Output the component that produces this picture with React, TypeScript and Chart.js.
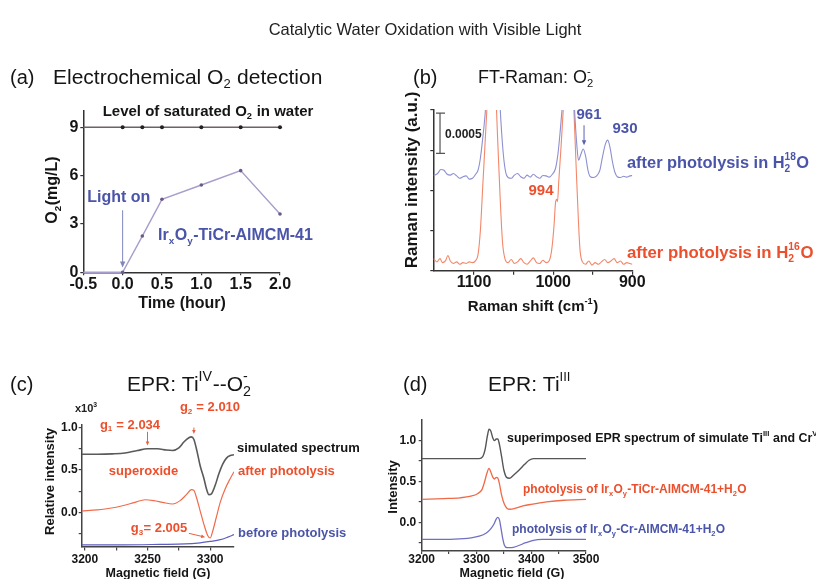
import React, { useEffect, useRef } from 'react';
import { Chart, registerables } from 'chart.js';

Chart.register(...registerables);

const PAGE_W = 816;
const PAGE_H = 579;
const FONT = "'Liberation Sans', Arial, Helvetica, sans-serif";

// ---------------- (a) Electrochemical O2 detection ----------------
const timeHours = [-0.5, 0, 0.25, 0.5, 1.0, 1.5, 2.0];
const o2Values = [0, 0, 2.25, 4.53, 5.42, 6.31, 3.62];
const saturatedO2 = [9, 9, 9, 9, 9, 9, 9];
const timeTicks = [-0.5, 0, 0.5, 1.0, 1.5, 2.0];
const o2Ticks = [0, 3, 6, 9];

// ---------------- (b) FT-Raman (intensity in units of 0.0005) ----------------
const raman18O: [number, number][] = [
  [1151, 2.37], [1146, 2.42], [1142, 2.52], [1138, 2.5], [1134, 2.4], [1130, 2.38], [1126, 2.42], [1122, 2.36],
  [1118, 2.3], [1114, 2.34], [1110, 2.36], [1106, 2.28], [1102, 2.3], [1098, 2.4], [1095, 2.5],
  [1092, 2.8], [1089, 3.3], [1086, 3.9], [1083, 4.8], [1079, 5.8], [1075, 6.2], [1071, 5.6], [1068, 4.4], [1066, 3.7],
  [1063, 2.9], [1060, 2.45], [1057, 2.32], [1053, 2.3], [1049, 2.38], [1045, 2.42], [1041, 2.34], [1037, 2.3],
  [1033, 2.38], [1029, 2.33], [1025, 2.4], [1021, 2.34], [1017, 2.3], [1013, 2.37], [1009, 2.36], [1005, 2.33], [1001, 2.4],
  [997, 2.55], [994, 2.9], [991, 3.5], [988, 4.2], [985, 5.0], [980, 6.0], [976, 5.2], [973, 4.0], [970, 3.1], [968, 2.75],
  [965, 2.9], [962, 3.03], [959, 2.85], [956, 2.5], [953, 2.34], [949, 2.32], [945, 2.36], [941, 2.5], [938, 2.8],
  [934, 3.15], [931, 3.25], [928, 3.05], [925, 2.7], [922, 2.45], [919, 2.34], [915, 2.32], [911, 2.35], [907, 2.33],
  [903, 2.36], [900, 2.37],
];
const raman16O: [number, number][] = [
  [1151, 0.3], [1147, 0.22], [1143, 0.3], [1140, 0.2], [1136, 0.25], [1133, 0.38], [1130, 0.24], [1126, 0.18],
  [1122, 0.22], [1118, 0.16], [1114, 0.2], [1110, 0.18], [1106, 0.22], [1102, 0.2], [1098, 0.25],
  [1095, 0.4], [1092, 1.0], [1089, 2.1], [1086, 3.2], [1083, 4.3], [1078, 5.6], [1073, 4.6], [1070, 3.2], [1067, 1.8],
  [1064, 0.7], [1061, 0.3], [1057, 0.2], [1053, 0.28], [1049, 0.18], [1045, 0.22], [1041, 0.3], [1037, 0.2],
  [1033, 0.16], [1029, 0.24], [1025, 0.32], [1021, 0.2], [1017, 0.18], [1013, 0.26], [1009, 0.2], [1005, 0.25],
  [1002, 0.5], [999, 1.1], [997, 1.7], [995.5, 1.78], [994.5, 1.72], [993, 2.2], [990, 3.1], [987, 4.1], [983, 5.5],
  [978, 5.7], [974, 4.1], [971, 2.6], [968, 1.2], [966, 0.5], [963, 0.22],
  [959, 0.16], [955, 0.24], [951, 0.14], [947, 0.2], [943, 0.16], [939, 0.22], [935, 0.28], [931, 0.2], [927, 0.24],
  [923, 0.3], [919, 0.2], [915, 0.24], [911, 0.16], [907, 0.2], [903, 0.18], [900, 0.16],
];
const ramanMajorTicks = [1100, 1000, 900];
const ramanAllTicks = [1100, 1050, 1000, 950, 900];
const ramanYTicks = [0, 1, 2, 3, 4];

// ---------------- (c) EPR: Ti(IV)--O2- ----------------
const eprSimulated: [number, number][] = [
  [3197.5, 0.686], [3210, 0.686], [3222, 0.69], [3232, 0.7], [3242, 0.73], [3250, 0.75], [3258, 0.75], [3265, 0.735],
  [3270, 0.73], [3275, 0.76], [3279, 0.83], [3283, 0.88], [3285, 0.89], [3287, 0.86], [3289.5, 0.72], [3292, 0.55],
  [3295, 0.4], [3297, 0.28], [3299, 0.21], [3301, 0.22], [3304, 0.32], [3307, 0.46], [3310, 0.57], [3313, 0.64],
  [3316, 0.67], [3319, 0.68],
];
const eprAfter: [number, number][] = [
  [3197.5, 0.02], [3210, 0.03], [3220, 0.05], [3230, 0.08], [3240, 0.12], [3248, 0.15], [3255, 0.14], [3262, 0.12],
  [3270, 0.1], [3276, 0.14], [3281, 0.21], [3285, 0.27], [3287, 0.26], [3289, 0.18], [3292, 0.02], [3295, -0.14],
  [3298, -0.27], [3300, -0.3], [3302, -0.22], [3305, -0.05], [3308, 0.12], [3312, 0.28], [3316, 0.4], [3319, 0.48],
];
const eprBefore: [number, number][] = [
  [3197.5, -0.38], [3230, -0.38], [3260, -0.375], [3280, -0.37], [3290, -0.36], [3300, -0.34], [3308, -0.32],
  [3314, -0.29], [3319, -0.26],
];
const fieldTicksC = [3200, 3225, 3250, 3275, 3300];
const intTicksC = [-0.25, 0, 0.25, 0.5, 0.75, 1.0];

// ---------------- (d) EPR: Ti(III) ----------------
const eprSuperimposed: [number, number][] = [
  [3200, 0.78], [3305, 0.78], [3311, 0.8], [3316, 0.9], [3320, 1.06], [3323, 1.14], [3326, 1.12], [3330, 1.03],
  [3333, 1.0], [3336, 1.02], [3339, 1.02], [3342, 0.95], [3346, 0.8], [3350, 0.64], [3355, 0.55], [3360, 0.54],
  [3368, 0.58], [3378, 0.64], [3388, 0.71], [3396, 0.76], [3404, 0.78], [3500, 0.78],
];
const eprTiCr: [number, number][] = [
  [3200, 0.28], [3240, 0.29], [3270, 0.3], [3290, 0.32], [3302, 0.35], [3310, 0.4], [3315, 0.5], [3319, 0.6],
  [3323, 0.66], [3326, 0.62], [3330, 0.55], [3333, 0.53], [3336, 0.55], [3339, 0.54], [3342, 0.47], [3346, 0.33],
  [3351, 0.22], [3356, 0.17], [3361, 0.16], [3370, 0.17], [3385, 0.2], [3400, 0.22], [3428, 0.25], [3460, 0.27],
  [3500, 0.28],
];
const eprCr: [number, number][] = [
  [3200, -0.21], [3260, -0.205], [3290, -0.19], [3305, -0.17], [3318, -0.13], [3326, -0.08], [3332, -0.02],
  [3336, 0.04], [3339, 0.06], [3342, 0.03], [3345, -0.08], [3348, -0.2], [3351, -0.28], [3356, -0.31], [3364, -0.31],
  [3375, -0.29], [3390, -0.25], [3404, -0.22], [3420, -0.21], [3500, -0.21],
];
const fieldTicksD = [3200, 3250, 3300, 3350, 3400, 3450, 3500];
const intTicksD = [-0.25, 0, 0.25, 0.5, 0.75, 1.0];

// ---------------- styles ----------------
const INK = '#151515';
const BLUE_TXT = '#4a54a8';
const RED_TXT = '#ec4f2c';
const AXIS = '#333333';

// ---------------- rich text ----------------
type Seg = { t: string; m: number };
function parseRich(s: string): Seg[] {
  const out: Seg[] = [];
  const re = /([_^])\{([^}]*)\}/g;
  let last = 0;
  let m: RegExpExecArray | null;
  while ((m = re.exec(s))) {
    if (m.index > last) out.push({ t: s.slice(last, m.index), m: 0 });
    out.push({ t: m[2], m: m[1] === '^' ? 1 : -1 });
    last = re.lastIndex;
  }
  if (last < s.length) out.push({ t: s.slice(last), m: 0 });
  return out;
}

function drawRich(ctx: CanvasRenderingContext2D, text: string, x: number, y: number, o: any) {
  const segs = parseRich(text);
  const w = o.bold ? 'bold ' : '';
  const size = o.size;
  const small = size * (o.small || 0.62);
  ctx.save();
  ctx.translate(x, y);
  if (o.rot) ctx.rotate(o.rot);
  ctx.fillStyle = o.color || INK;
  ctx.textBaseline = 'middle';
  ctx.textAlign = 'left';
  const placed: { s: Seg; x: number }[] = [];
  let cx = 0;
  let i = 0;
  while (i < segs.length) {
    const s = segs[i];
    if (s.m === 0) {
      ctx.font = `${w}${size}px ${FONT}`;
      placed.push({ s, x: cx });
      cx += ctx.measureText(s.t).width;
      i++;
    } else {
      ctx.font = `${w}${small}px ${FONT}`;
      let wd = ctx.measureText(s.t).width;
      placed.push({ s, x: cx });
      const n = segs[i + 1];
      if (n && n.m !== 0 && n.m !== s.m) {
        wd = Math.max(wd, ctx.measureText(n.t).width);
        placed.push({ s: n, x: cx });
        i++;
      }
      cx += wd + size * 0.03;
      i++;
    }
  }
  const off = o.align === 'center' ? -cx / 2 : o.align === 'right' ? -cx : 0;
  for (const p of placed) {
    const sz = p.s.m === 0 ? size : small;
    ctx.font = `${w}${sz}px ${FONT}`;
    const dy = p.s.m === 0 ? 0 : p.s.m === 1 ? -size * 0.36 : size * 0.32;
    ctx.fillText(p.s.t, p.x + off, dy);
  }
  ctx.restore();
}

function drawArrow(ctx: CanvasRenderingContext2D, x1: number, y1: number, x2: number, y2: number, color: string, head: number) {
  const a = Math.atan2(y2 - y1, x2 - x1);
  ctx.save();
  ctx.strokeStyle = color;
  ctx.fillStyle = color;
  ctx.lineWidth = 1;
  ctx.beginPath();
  ctx.moveTo(x1, y1);
  ctx.lineTo(x2 - Math.cos(a) * head * 0.8, y2 - Math.sin(a) * head * 0.8);
  ctx.stroke();
  ctx.beginPath();
  ctx.moveTo(x2, y2);
  ctx.lineTo(x2 - Math.cos(a) * head + Math.sin(a) * head * 0.45, y2 - Math.sin(a) * head - Math.cos(a) * head * 0.45);
  ctx.lineTo(x2 - Math.cos(a) * head - Math.sin(a) * head * 0.45, y2 - Math.sin(a) * head + Math.cos(a) * head * 0.45);
  ctx.closePath();
  ctx.fill();
  ctx.restore();
}

function notes(items: any[]) {
  return {
    id: 'notes',
    afterDraw(chart: any) {
      const ctx = chart.ctx as CanvasRenderingContext2D;
      const sx = chart.scales.x;
      const sy = chart.scales.y;
      const px = (it: any, v: number) => (it.at === 'data' ? sx.getPixelForValue(v) : v);
      const py = (it: any, v: number) => (it.at === 'data' ? sy.getPixelForValue(v) : v);
      for (const it of items) {
        if (it.type === 'text') {
          drawRich(ctx, it.text, px(it, it.x), py(it, it.y), it);
        } else if (it.type === 'arrow') {
          drawArrow(ctx, px(it, it.x1), py(it, it.y1), px(it, it.x2), py(it, it.y2), it.color, it.head || 5);
        } else if (it.type === 'bar') {
          const x = px(it, it.x);
          const a = py(it, it.y1);
          const b = py(it, it.y2);
          ctx.save();
          ctx.strokeStyle = it.color;
          ctx.lineWidth = 1.2;
          ctx.beginPath();
          ctx.moveTo(x, a);
          ctx.lineTo(x, b);
          ctx.moveTo(x - 4, a);
          ctx.lineTo(x + 5, a);
          ctx.moveTo(x - 4, b);
          ctx.lineTo(x + 5, b);
          ctx.stroke();
          ctx.restore();
        }
      }
    },
  };
}

// ---------------- chart builders ----------------
type Area = { l: number; t: number; r: number; b: number };

function linAxis(o: {
  pos: 'bottom' | 'left'; min: number; max: number; ticks: number[]; label: (v: number) => string;
  size: number; tick: number; pad: number; color?: string; reverse?: boolean; fit: number;
}) {
  const color = o.color || AXIS;
  return {
    type: 'linear',
    position: o.pos,
    min: o.min,
    max: o.max,
    reverse: !!o.reverse,
    afterBuildTicks: (ax: any) => {
      ax.ticks = o.ticks.map((v) => ({ value: v }));
    },
    afterFit: (ax: any) => {
      if (o.pos === 'bottom') ax.height = o.fit;
      else ax.width = o.fit;
    },
    ticks: {
      autoSkip: false,
      maxRotation: 0,
      minRotation: 0,
      padding: o.pad,
      color: INK,
      font: { family: FONT, size: o.size, weight: 'bold', lineHeight: 1 },
      callback: (v: any) => o.label(Number(v)),
    },
    grid: { display: true, drawOnChartArea: false, drawTicks: true, tickLength: o.tick, color, lineWidth: 1.2 },
    border: { display: true, color, width: 1.5 },
  };
}

function buildConfig(p: { area: Area; yW: number; xH: number; x: any; y: any; datasets: any[]; items: any[] }) {
  return {
    type: 'line',
    data: { datasets: p.datasets },
    options: {
      responsive: false,
      animation: false,
      devicePixelRatio: 1,
      events: [],
      layout: {
        padding: {
          left: p.area.l - p.yW,
          top: p.area.t,
          right: PAGE_W - p.area.r,
          bottom: PAGE_H - p.area.b - p.xH,
        },
      },
      plugins: { legend: { display: false }, tooltip: { enabled: false }, title: { display: false } },
      elements: { point: { radius: 0 } },
      scales: { x: p.x, y: p.y },
    },
    plugins: [notes(p.items)],
  };
}

function series(pts: [number, number][], color: string, width: number, extra: any = {}) {
  return {
    data: pts.map(([x, y]) => ({ x, y })),
    borderColor: color,
    borderWidth: width,
    pointRadius: 0,
    cubicInterpolationMode: 'monotone',
    fill: false,
    ...extra,
  };
}

const isMult = (v: number, step: number) => Math.abs(v / step - Math.round(v / step)) < 1e-6;

function configA() {
  return buildConfig({
    area: { l: 83.3, t: 111.2, r: 280, b: 272.3 },
    yW: 30,
    xH: 30,
    x: linAxis({ pos: 'bottom', min: -0.5, max: 2, ticks: timeTicks, label: (v) => v.toFixed(1), size: 16, tick: 3, pad: 1, fit: 30 }),
    y: linAxis({ pos: 'left', min: 0, max: 10, ticks: o2Ticks, label: (v) => String(v), size: 16, tick: 3, pad: 2, fit: 30 }),
    datasets: [
      {
        data: timeHours.map((t, i) => ({ x: t, y: saturatedO2[i] })),
        borderColor: '#6e6262',
        borderWidth: 1.4,
        pointRadius: timeHours.map((t) => (t < 0 ? 0 : 2)),
        pointBackgroundColor: '#222',
        pointBorderWidth: 0,
        tension: 0,
        clip: 6,
      },
      {
        data: timeHours.map((t, i) => ({ x: t, y: o2Values[i] })),
        borderColor: '#a99dcc',
        borderWidth: 1.4,
        pointRadius: timeHours.map((t) => (t < 0 ? 0 : 1.8)),
        pointBackgroundColor: '#6a5a8a',
        pointBorderWidth: 0,
        tension: 0,
        clip: 6,
      },
    ],
    items: [
      { type: 'text', at: 'page', x: 425, y: 30, text: 'Catalytic Water Oxidation with Visible Light', size: 16.5, color: '#222', align: 'center' },
      { type: 'text', at: 'page', x: 10, y: 78, text: '(a)', size: 20, color: INK },
      { type: 'text', at: 'page', x: 53, y: 78, text: 'Electrochemical O_{2} detection', size: 21, color: INK },
      { type: 'text', at: 'page', x: 208, y: 112, text: 'Level of saturated O_{2} in water', size: 15, bold: true, color: INK, align: 'center' },
      { type: 'text', at: 'data', x: -0.05, y: 4.63, text: 'Light on', size: 16, bold: true, color: BLUE_TXT, align: 'center' },
      { type: 'arrow', at: 'data', x1: 0, y1: 3.85, x2: 0, y2: 0.3, color: '#7f86bd', head: 6 },
      { type: 'text', at: 'data', x: 0.45, y: 2.25, text: 'Ir_{x}O_{y}-TiCr-AlMCM-41', size: 16, bold: true, color: BLUE_TXT },
      { type: 'text', at: 'page', x: 53, y: 190, text: 'O_{2}(mg/L)', size: 16, bold: true, color: INK, align: 'center', rot: -Math.PI / 2 },
      { type: 'text', at: 'page', x: 182, y: 304, text: 'Time (hour)', size: 16, bold: true, color: INK, align: 'center' },
    ],
  });
}

function configB() {
  return buildConfig({
    area: { l: 433.3, t: 110, r: 632.3, b: 270.7 },
    yW: 20,
    xH: 30,
    x: linAxis({
      pos: 'bottom', min: 900, max: 1151.5, reverse: true, ticks: ramanAllTicks,
      label: (v) => (ramanMajorTicks.includes(Math.round(v)) ? String(Math.round(v)) : ''), size: 16, tick: 4, pad: 0, fit: 30,
    }),
    y: linAxis({ pos: 'left', min: 0, max: 4, ticks: ramanYTicks, label: () => '', size: 12, tick: 3, pad: 0, fit: 20 }),
    datasets: [series(raman18O, '#8d90d2', 1.1), series(raman16O, '#f3876a', 1.1)],
    items: [
      { type: 'text', at: 'page', x: 413, y: 78, text: '(b)', size: 20, color: INK },
      { type: 'text', at: 'page', x: 478, y: 78, text: 'FT-Raman: O_{2}^{-}', size: 18, color: INK },
      { type: 'text', at: 'page', x: 412, y: 180, text: 'Raman intensity (a.u.)', size: 17, bold: true, color: INK, align: 'center', rot: -Math.PI / 2 },
      { type: 'text', at: 'page', x: 533, y: 307, text: 'Raman shift (cm^{-1})', size: 15, bold: true, color: INK, align: 'center' },
      { type: 'bar', at: 'data', x: 1143, y1: 2.92, y2: 3.92, color: '#555' },
      { type: 'text', at: 'page', x: 445, y: 134.7, text: '0.0005', size: 12, bold: true, color: '#222' },
      { type: 'text', at: 'page', x: 589, y: 115, text: '961', size: 15, bold: true, color: BLUE_TXT, align: 'center' },
      { type: 'arrow', at: 'data', x1: 961, y1: 3.62, x2: 961, y2: 3.12, color: '#5a62b0', head: 5 },
      { type: 'text', at: 'page', x: 625, y: 129, text: '930', size: 15, bold: true, color: BLUE_TXT, align: 'center' },
      { type: 'text', at: 'page', x: 541, y: 191, text: '994', size: 15, bold: true, color: RED_TXT, align: 'center' },
      { type: 'text', at: 'page', x: 627, y: 163.5, text: 'after photolysis in H_{2}^{18}O', size: 16.4, bold: true, color: BLUE_TXT },
      { type: 'text', at: 'page', x: 627, y: 253.5, text: 'after photolysis in H_{2}^{16}O', size: 16.8, bold: true, color: RED_TXT },
    ],
  });
}

function configC() {
  return buildConfig({
    area: { l: 81.7, t: 425, r: 234, b: 546.5 },
    yW: 30,
    xH: 25,
    x: linAxis({
      pos: 'bottom', min: 3197.5, max: 3319, ticks: fieldTicksC, label: (v) => (isMult(v, 50) ? String(Math.round(v)) : ''),
      size: 12, tick: 4, pad: 3.5, color: '#444', fit: 25,
    }),
    y: linAxis({
      pos: 'left', min: -0.4, max: 1.03, ticks: intTicksC, label: (v) => (isMult(v, 0.5) ? v.toFixed(1) : ''),
      size: 12, tick: 3, pad: 1, color: '#444', fit: 30,
    }),
    datasets: [
      series(eprSimulated, '#5a5a5a', 1.6),
      series(eprAfter, '#f06b4c', 1.2),
      series(eprBefore, '#5e5ec0', 1.2),
    ],
    items: [
      { type: 'text', at: 'page', x: 10, y: 385, text: '(c)', size: 20, color: INK },
      { type: 'text', at: 'page', x: 127, y: 385, text: 'EPR: Ti^{IV}--O_{2}^{-}', size: 21, small: 0.68, color: INK },
      { type: 'text', at: 'page', x: 75, y: 409, text: 'x10^{3}', size: 11, bold: true, color: '#222' },
      { type: 'text', at: 'page', x: 130, y: 425, text: 'g_{1} = 2.034', size: 13, bold: true, color: RED_TXT, align: 'center' },
      { type: 'arrow', at: 'data', x1: 3250, y1: 0.95, x2: 3250, y2: 0.79, color: '#e8603f', head: 4 },
      { type: 'text', at: 'page', x: 210, y: 407.5, text: 'g_{2} = 2.010', size: 13, bold: true, color: RED_TXT, align: 'center' },
      { type: 'arrow', at: 'data', x1: 3287, y1: 1.0, x2: 3287, y2: 0.925, color: '#e8603f', head: 4 },
      { type: 'text', at: 'page', x: 143.5, y: 471, text: 'superoxide', size: 13, bold: true, color: RED_TXT, align: 'center' },
      { type: 'text', at: 'page', x: 159, y: 528.5, text: 'g_{3}= 2.005', size: 13, bold: true, color: RED_TXT, align: 'center' },
      { type: 'arrow', at: 'data', x1: 3283, y1: -0.245, x2: 3296, y2: -0.29, color: '#e8603f', head: 4 },
      { type: 'text', at: 'page', x: 237, y: 448.5, text: 'simulated spectrum', size: 13, bold: true, color: INK },
      { type: 'text', at: 'page', x: 238, y: 471, text: 'after photolysis', size: 13, bold: true, color: RED_TXT },
      { type: 'text', at: 'page', x: 238, y: 533.5, text: 'before photolysis', size: 13, bold: true, color: BLUE_TXT },
      { type: 'text', at: 'page', x: 50, y: 481.5, text: 'Relative intensity', size: 13, bold: true, color: INK, align: 'center', rot: -Math.PI / 2 },
      { type: 'text', at: 'page', x: 158, y: 574, text: 'Magnetic field (G)', size: 12.5, bold: true, color: INK, align: 'center' },
    ],
  });
}

function configD() {
  return buildConfig({
    area: { l: 421.7, t: 420.2, r: 586, b: 550.9 },
    yW: 40,
    xH: 20,
    x: linAxis({
      pos: 'bottom', min: 3200, max: 3500, ticks: fieldTicksD, label: (v) => (isMult(v, 100) ? String(Math.round(v)) : ''),
      size: 12, tick: 3, pad: 0, color: '#444', fit: 20,
    }),
    y: linAxis({
      pos: 'left', min: -0.35, max: 1.25, ticks: intTicksD, label: (v) => (isMult(v, 0.5) ? v.toFixed(1) : ''),
      size: 12, tick: 3, pad: 2.5, color: '#444', fit: 40,
    }),
    datasets: [
      series(eprSuperimposed, '#555555', 1.4),
      series(eprTiCr, '#ef6a48', 1.3),
      series(eprCr, '#7070c2', 1.3),
    ],
    items: [
      { type: 'text', at: 'page', x: 403, y: 385, text: '(d)', size: 20, color: INK },
      { type: 'text', at: 'page', x: 488, y: 385, text: 'EPR: Ti^{III}', size: 21, color: INK },
      { type: 'text', at: 'page', x: 507, y: 438.5, text: 'superimposed EPR spectrum of simulate Ti^{III} and Cr^{V}', size: 12.4, bold: true, color: INK },
      { type: 'text', at: 'page', x: 523, y: 490, text: 'photolysis of Ir_{x}O_{y}-TiCr-AlMCM-41+H_{2}O', size: 12, bold: true, color: RED_TXT },
      { type: 'text', at: 'page', x: 512, y: 530, text: 'photolysis of Ir_{x}O_{y}-Cr-AlMCM-41+H_{2}O', size: 12, bold: true, color: BLUE_TXT },
      { type: 'text', at: 'page', x: 393, y: 487, text: 'Intensity', size: 13, bold: true, color: INK, align: 'center', rot: -Math.PI / 2 },
      { type: 'text', at: 'page', x: 512, y: 574, text: 'Magnetic field (G)', size: 12.5, bold: true, color: INK, align: 'center' },
    ],
  });
}

function ChartLayer({ make }: { make: () => any }) {
  const ref = useRef<HTMLCanvasElement | null>(null);
  useEffect(() => {
    if (!ref.current) return;
    const chart = new Chart(ref.current, make());
    return () => chart.destroy();
  }, [make]);
  return (
    <canvas
      ref={ref}
      width={PAGE_W}
      height={PAGE_H}
      style={{ position: 'absolute', left: 0, top: 0, width: PAGE_W, height: PAGE_H }}
    />
  );
}

export default function App() {
  return (
    <div
      style={{
        position: 'absolute',
        left: 0,
        top: 0,
        width: PAGE_W,
        height: PAGE_H,
        background: '#ffffff',
        overflow: 'hidden',
      }}
    >
      <ChartLayer make={configA} />
      <ChartLayer make={configB} />
      <ChartLayer make={configC} />
      <ChartLayer make={configD} />
    </div>
  );
}
